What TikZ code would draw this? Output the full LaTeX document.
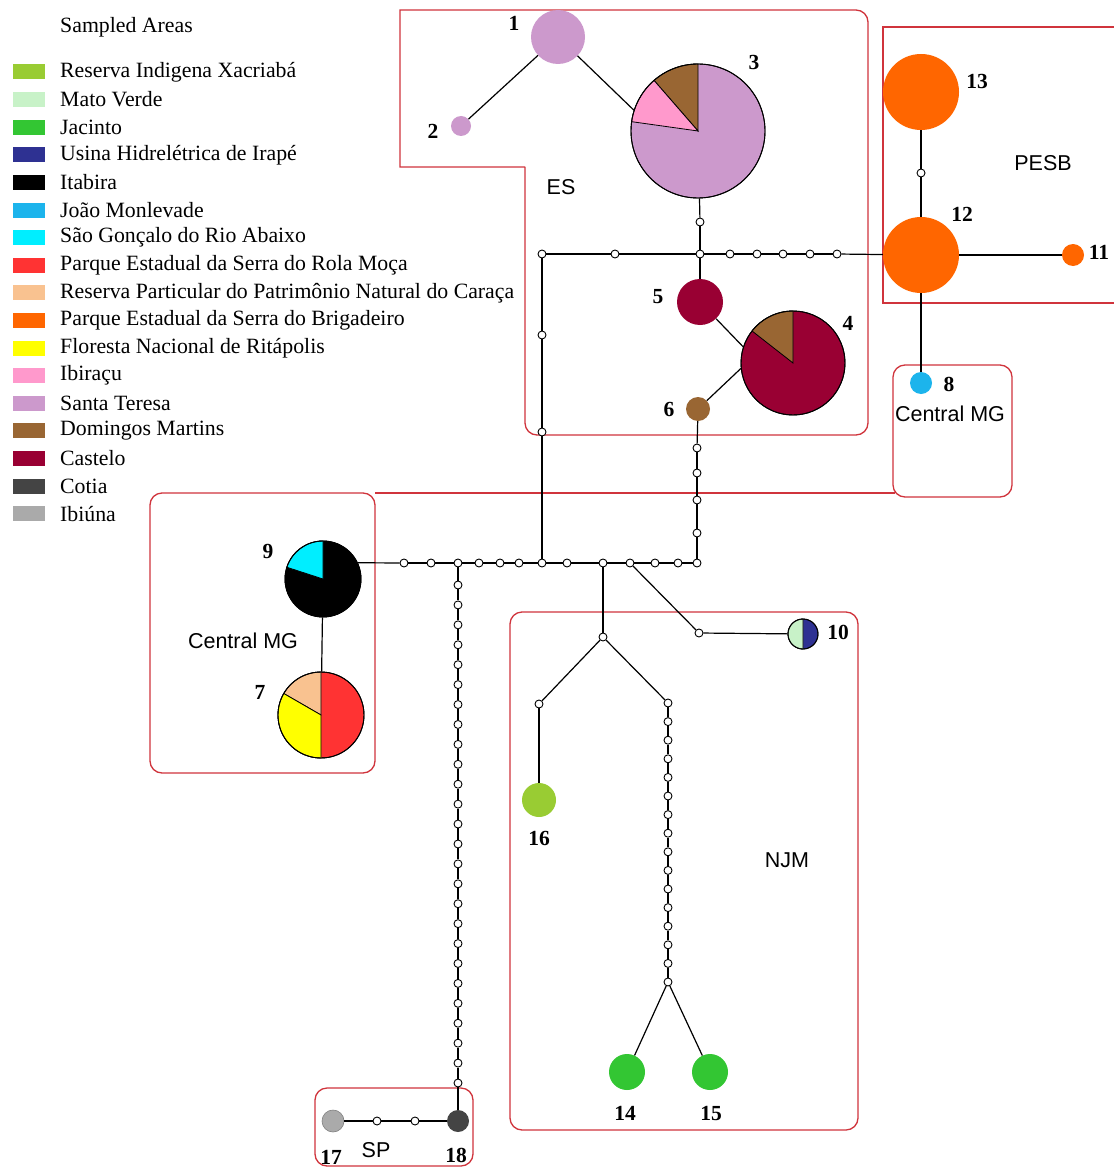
\documentclass[tikz,border=0pt]{standalone}
\usepackage{fontspec}
\setmainfont{Liberation Serif}
\setsansfont{Liberation Sans}
\definecolor{cXac}{HTML}{99CC33}
\definecolor{cMato}{HTML}{C8F2C8}
\definecolor{cJac}{HTML}{33C633}
\definecolor{cIrape}{HTML}{2E3192}
\definecolor{cItab}{HTML}{000000}
\definecolor{cJoao}{HTML}{1CB4EC}
\definecolor{cSaoG}{HTML}{00EEFF}
\definecolor{cRola}{HTML}{FF3333}
\definecolor{cCara}{HTML}{F9C290}
\definecolor{cBrig}{HTML}{FF6600}
\definecolor{cRita}{HTML}{FFFF00}
\definecolor{cIbir}{HTML}{FF99CC}
\definecolor{cSanta}{HTML}{CC99CC}
\definecolor{cDom}{HTML}{996633}
\definecolor{cCast}{HTML}{990033}
\definecolor{cCotia}{HTML}{444444}
\definecolor{cIbiu}{HTML}{AAAAAA}
\definecolor{regred}{HTML}{D0343C}
\newcommand\pieslice[5]{\filldraw[fill=#5, draw=black, line width=0.8pt] (#1.center) -- ++(#2:#4) arc[start angle=#2, end angle=#3, radius=#4] -- cycle;}
\newcommand\pieoutline[2]{\draw[black, line width=0.9pt] (#1.center) circle[radius=#2];}
\begin{document}
\begin{tikzpicture}[x=1pt,y=-1pt,
  mv/.style={circle, draw=black, fill=white, line width=0.9pt, inner sep=0pt, minimum size=8pt},
  hap/.style={circle, inner sep=0pt, minimum size=#1},
  edge/.style={draw=black, line width=1.2pt},
  region/.style={draw=regred, line width=1.3pt},
  num/.style={font=\fontsize{21.5}{22}\selectfont\bfseries, inner sep=0pt},
  area/.style={font=\sffamily\fontsize{21.5}{22}\selectfont, inner sep=0pt},
  leg/.style={font=\fontsize{21.8}{24}\selectfont, inner sep=0pt, anchor=west},
  swatch/.style={minimum width=32pt, minimum height=15pt, inner sep=0pt}
]
\useasboundingbox (0,0) rectangle (1113,1169);
\fill[white] (0,0) rectangle (1113,1169);

% ---------------- regions ----------------
\draw[region] (525,167) -- (400,167) -- (400,10) [rounded corners=12pt] -- (868,10) -- (868,435) -- (525,435) -- (525,300) [sharp corners] -- (525,167);
\draw[region] (1125,27) -- (883,27) -- (883,303) -- (1125,303);
\draw[region, rounded corners=12pt] (893,365) rectangle (1012,497);
\draw[region, rounded corners=12pt] (150,493) rectangle (375,773);
\draw[region] (375,493) -- (895,493);
\draw[region, rounded corners=12pt] (510,612) rectangle (858,1130);
\draw[region, rounded corners=12pt] (315,1088) rectangle (473,1166);

% ---------------- legend ----------------
\node[leg] (legtitle) at (60,27) {Sampled Areas};
\foreach \t/\c [count=\i from 0] in {
  Reserva Indigena Xacriabá/cXac,
  Mato Verde/cMato,
  Jacinto/cJac,
  Usina Hidrelétrica de Irapé/cIrape,
  Itabira/cItab,
  João Monlevade/cJoao,
  São Gonçalo do Rio Abaixo/cSaoG,
  Parque Estadual da Serra do Rola Moça/cRola,
  Reserva Particular do Patrimônio Natural do Caraça/cCara,
  Parque Estadual da Serra do Brigadeiro/cBrig,
  Floresta Nacional de Ritápolis/cRita,
  Ibiraçu/cIbir,
  Santa Teresa/cSanta,
  Domingos Martins/cDom,
  Castelo/cCast,
  Cotia/cCotia,
  Ibiúna/cIbiu}{
  \node[swatch, fill=\c] (sw\i) at (29,{72+27.6*\i}) {};
  \node[leg] (lt\i) at (60,{72+27.6*\i}) {\t};
}

% ---------------- haplotype nodes ----------------
\node[hap=54pt, fill=cSanta] (h1) at (558,37) {};
\node[hap=20pt, fill=cSanta] (h2) at (461,126) {};
\node[hap=134pt, fill=cSanta, draw=black, line width=0.9pt] (h3) at (698,131) {};
\node[hap=104pt, fill=cCast, draw=black, line width=0.9pt] (h4) at (793,363) {};
\node[hap=46pt, fill=cCast] (h5) at (700,302) {};
\node[hap=24pt, fill=cDom] (h6) at (698,409) {};
\node[hap=86pt, fill=cRola, draw=black, line width=0.9pt] (h7) at (321,715) {};
\node[hap=22pt, fill=cJoao] (h8) at (921,383) {};
\node[hap=76pt, fill=cItab, draw=black, line width=0.9pt] (h9) at (323,579) {};
\node[hap=30pt, fill=cIrape, draw=black, line width=0.9pt] (h10) at (803,634) {};
\node[hap=22pt, fill=cBrig] (h11) at (1073,255) {};
\node[hap=76pt, fill=cBrig] (h12) at (921,255) {};
\node[hap=76pt, fill=cBrig] (h13) at (921,92) {};
\node[hap=36pt, fill=cJac] (h14) at (627,1072) {};
\node[hap=36pt, fill=cJac] (h15) at (710,1072) {};
\node[hap=34pt, fill=cXac] (h16) at (539,800) {};
\node[hap=22pt, fill=cIbiu, draw=gray, line width=0.6pt] (h17) at (333,1121) {};
\node[hap=22pt, fill=cCotia] (h18) at (458,1121) {};

% pie slices
\pieslice{h3}{-90}{-131}{67}{cDom}
\pieslice{h3}{-131}{-172}{67}{cIbir}
\pieoutline{h3}{67}
\pieslice{h4}{-90}{-142}{52}{cDom}
\pieoutline{h4}{52}
\pieslice{h9}{-90}{-162}{38}{cSaoG}
\pieoutline{h9}{38}
\pieslice{h7}{-90}{-150}{43}{cCara}
\pieslice{h7}{-150}{-270}{43}{cRita}
\pieoutline{h7}{43}
\pieslice{h10}{-90}{-270}{15}{cMato}
\pieoutline{h10}{15}

% ---------------- median vectors ----------------
\node[mv] (m1) at (700,222) {};
\node[mv] (j1) at (700,254) {};
\node[mv] (c1) at (542,254) {};
\node[mv] (q1) at (615,254) {};
\foreach \x [count=\i] in {730,757,783,810,837} \node[mv] (r\i) at (\x,254) {};
\node[mv] (v1) at (542,335) {};
\node[mv] (v2) at (542,432) {};
\node[mv] (m13) at (921,173) {};
\foreach \x [count=\i] in {404,431,458,479,500,519,542,567,603,630,655,678,697} \node[mv] (u\i) at (\x,563) {};
\foreach \y [count=\i] in {533,500,473,448} \node[mv] (w\i) at (697,\y) {};
\foreach \i in {1,...,26} \node[mv] (s\i) at (458,{585+19.92*(\i-1)}) {};
\node[mv] (p2) at (415,1121) {};
\node[mv] (p1) at (377,1121) {};
\node[mv] (n1) at (603,637) {};
\node[mv] (n2) at (539,704) {};
\foreach \i in {1,...,16} \node[mv] (k\i) at (668,{703+18.6*(\i-1)}) {};
\node[mv] (t1) at (699,633) {};

% ---------------- connectors ----------------
\draw[edge] (h1) -- (h2);
\draw[edge] (h1) -- (h3.162);
\draw[edge] (h3) -- (m1);
\draw[edge] (m1) -- (j1);
\draw[edge] (j1) -- (h5);
\draw[edge] (h5) -- (h4.162);
\draw[edge] (h6) -- (h4.186);
\draw[edge] (c1) -- (q1);
\draw[edge] (q1) -- (j1);
\draw[edge] (j1) -- (r1);
\draw[edge] (r1) -- (r2);
\draw[edge] (r2) -- (r3);
\draw[edge] (r3) -- (r4);
\draw[edge] (r4) -- (r5);
\draw[edge] (r5) -- (h12);
\draw[edge] (c1) -- (v1);
\draw[edge] (v1) -- (v2);
\draw[edge] (v2) -- (u7);
\draw[edge] (h13) -- (m13);
\draw[edge] (m13) -- (h12);
\draw[edge] (h12) -- (h11);
\draw[edge] (h12) -- (h8);
\draw[edge] (h9.25) -- (u1);
\foreach \i [evaluate=\i as \p using int(\i-1)] in {2,...,13} \draw[edge] (u\p) -- (u\i);
\draw[edge] (u13) -- (w1);
\draw[edge] (w1) -- (w2);
\draw[edge] (w2) -- (w3);
\draw[edge] (w3) -- (w4);
\draw[edge] (w4) -- (h6);
\draw[edge] (h9) -- (h7);
\draw[edge] (u3) -- (s1);
\foreach \i [evaluate=\i as \p using int(\i-1)] in {2,...,26} \draw[edge] (s\p) -- (s\i);
\draw[edge] (s26) -- (h18);
\draw[edge] (h18) -- (p2);
\draw[edge] (p2) -- (p1);
\draw[edge] (p1) -- (h17);
\draw[edge] (u9) -- (n1);
\draw[edge] (n1) -- (n2);
\draw[edge] (n2) -- (h16);
\draw[edge] (n1) -- (k1);
\foreach \i [evaluate=\i as \p using int(\i-1)] in {2,...,16} \draw[edge] (k\p) -- (k\i);
\draw[edge] (k16) -- (h14);
\draw[edge] (k16) -- (h15);
\draw[edge] (u10) -- (t1);
\draw[edge] (t1) -- (h10);

% ---------------- labels ----------------
\node[num] (l1) at (514,23) {1};
\node[num] (l2) at (433,131) {2};
\node[num] (l3) at (754,62) {3};
\node[num] (l4) at (848,323) {4};
\node[num] (l5) at (658,297) {5};
\node[num] (l6) at (669,409) {6};
\node[num] (l7) at (260,692) {7};
\node[num] (l8) at (949,384) {8};
\node[num] (l9) at (268,551) {9};
\node[num] (l10) at (838,632) {10};
\node[num] (l11) at (1099,252) {11};
\node[num] (l12) at (962,214) {12};
\node[num] (l13) at (977,81) {13};
\node[num] (l14) at (625,1113) {14};
\node[num] (l15) at (711,1113) {15};
\node[num] (l16) at (539,838) {16};
\node[num] (l17) at (331,1157) {17};
\node[num] (l18) at (456,1155) {18};

\node[area] (aES) at (561,187) {ES};
\node[area] (aPESB) at (1043,163) {PESB};
\node[area] (aCMG1) at (950,414) {Central MG};
\node[area] (aCMG2) at (243,641) {Central MG};
\node[area] (aNJM) at (787,860) {NJM};
\node[area] (aSP) at (376,1150) {SP};
\end{tikzpicture}
\end{document}
